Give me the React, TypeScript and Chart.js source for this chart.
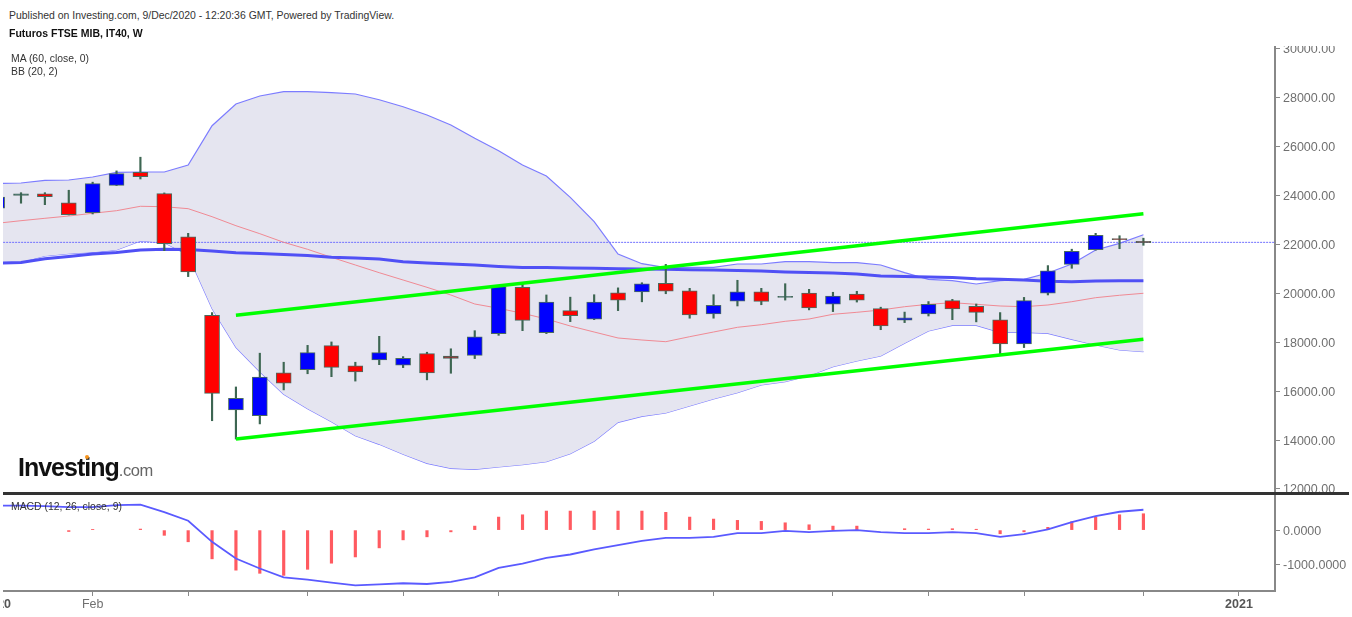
import { useEffect, useRef } from 'react';
import { Chart, registerables } from 'chart.js';

Chart.register(...registerables);

// weekly bars, the first one is cut off by the left edge of the pane
const weeks = [
  '2020-01-06', '2020-01-13', '2020-01-20', '2020-01-27', '2020-02-03', '2020-02-10', '2020-02-17',
  '2020-02-24', '2020-03-02', '2020-03-09', '2020-03-16', '2020-03-23', '2020-03-30', '2020-04-06',
  '2020-04-13', '2020-04-20', '2020-04-27', '2020-05-04', '2020-05-11', '2020-05-18', '2020-05-25',
  '2020-06-01', '2020-06-08', '2020-06-15', '2020-06-22', '2020-06-29', '2020-07-06', '2020-07-13',
  '2020-07-20', '2020-07-27', '2020-08-03', '2020-08-10', '2020-08-17', '2020-08-24', '2020-08-31',
  '2020-09-07', '2020-09-14', '2020-09-21', '2020-09-28', '2020-10-05', '2020-10-12', '2020-10-19',
  '2020-10-26', '2020-11-02', '2020-11-09', '2020-11-16', '2020-11-23', '2020-11-30', '2020-12-07',
];

const opens = [
  23480, 24000, 24060, 23700, 23290, 24410, 24940, 24070, 22310, 19100, 15230, 15000, 16750, 16880, 17860, 17030, 17280,
  17060, 17530, 17430, 17460, 18350, 20240, 18390, 19290, 18940, 20020, 20050, 20410, 20100, 19160, 19680, 20060, 19830,
  20010, 19550, 19970, 19370, 18900, 19160, 19700, 19470, 18910, 17930, 20000, 21180, 21780, 22230, 22120,
];
const closes = [
  23930, 24060, 23950, 23210, 24480, 24890, 24760, 22030, 20870, 15910, 15710, 16570, 16320, 17570, 16970, 16780, 17570,
  17340, 16740, 17340, 18220, 20270, 18890, 19640, 19080, 19640, 19720, 20380, 20080, 19110, 19510, 20060, 19670, 19870,
  19400, 19880, 19720, 18660, 19000, 19550, 19360, 19220, 17930, 19700, 20920, 21710, 22370, 22190, 22070,
];
const highs = [
  24000, 24110, 24110, 24210, 24540, 25000, 25560, 24100, 22450, 19210, 16170, 17550, 17180, 17870, 18010, 17180, 18240,
  17410, 17590, 17730, 18470, 20300, 20410, 19930, 19840, 19940, 20220, 20430, 21180, 20200, 19940, 20530, 20200, 20390,
  20160, 20040, 20080, 19430, 19230, 19660, 19750, 19560, 19210, 19830, 21130, 21800, 22450, 22350, 22250,
];
const lows = [
  23200, 23680, 23620, 23200, 23240, 24400, 24670, 21740, 20680, 14790, 14040, 14660, 16050, 16710, 16590, 16410, 17080,
  16960, 16460, 16730, 17330, 18280, 18470, 18350, 18840, 18920, 19290, 19650, 19980, 18980, 18980, 19480, 19530, 19720,
  19320, 19250, 19640, 18510, 18800, 19070, 18920, 18830, 17520, 17780, 19930, 21020, 21760, 21820, 21960,
];

const bbUpper = [
  24486, 24506, 24616, 24628, 24751, 24943, 24955, 24955, 25241, 26848, 27735, 28062, 28237, 28237, 28197, 28143, 27910,
  27624, 27285, 26877, 26333, 25826, 25241, 24792, 23921, 22924, 21604, 21208, 21044, 21061, 21061, 21195, 21195, 21289,
  21289, 21249, 21249, 21155, 20840, 20570, 20513, 20378, 20513, 20570, 20828, 21195, 21768, 22041, 22393,
];
const bbBasis = [
  22859, 22965, 23063, 23157, 23268, 23374, 23554, 23537, 23456, 23129, 22761, 22434, 22082, 21796, 21469, 21155, 20840,
  20541, 20243, 19928, 19561, 19385, 19181, 18948, 18662, 18416, 18171, 18089, 18020, 18224, 18416, 18608, 18715, 18853,
  18948, 19140, 19221, 19315, 19450, 19548, 19614, 19548, 19479, 19450, 19520, 19655, 19818, 19917, 19998,
];
const bbLower = [
  21224, 21277, 21522, 21617, 21674, 21768, 22135, 22066, 21564, 19377, 17791, 16793, 15870, 15282, 14750, 14178, 13826,
  13418, 13050, 12846, 12805, 12899, 12993, 13116, 13443, 13949, 14725, 14971, 15106, 15392, 15678, 15936, 16250, 16385,
  16630, 16998, 17231, 17435, 17954, 18457, 18690, 18690, 18404, 18404, 18363, 18118, 17885, 17681, 17611,
];
const ma60 = [
  21224, 21257, 21412, 21502, 21604, 21666, 21768, 21796, 21788, 21727, 21658, 21625, 21584, 21543, 21469, 21440, 21400,
  21289, 21236, 21195, 21155, 21093, 21052, 21052, 21032, 21020, 21003, 20991, 20979, 20962, 20950, 20930, 20909, 20868,
  20848, 20828, 20787, 20705, 20685, 20664, 20644, 20594, 20570, 20541, 20488, 20472, 20500, 20513, 20513,
];

const macdLine = [
  700, 705, 690, 660, 660, 720, 729, 518, 268, -337, -815, -1103, -1354, -1420, -1506, -1584, -1555,
  -1526, -1547, -1489, -1354, -1086, -959, -798, -700, -556, -432, -308, -222, -222, -193, -86, -86, -20,
  -58, -20, 0, -58, -86, -86, -58, -86, -193, -115, 20, 230, 403, 527, 585,
];
const macdHist = [
  null, null, null, -40, 20, null, 30, -150, -335, -825, -1150, -1240, -1300, -1125, -950, -770, -510,
  -280, -193, -50, 115, 374, 440, 547, 547, 547, 547, 547, 510, 374, 317, 280, 250, 210,
  153, 115, 115, null, 40, 30, 40, 25, -105, -50, 80, 240, 374, 440, 470,
];

// hand drawn channel and the last price line
const trendWeeks = [9, 47];
const trendUpper = [19100, 23250];
const trendLower = [14040, 18120];
const priceLineWeeks = [-1, 53];
const priceLine = [22080, 22080];

const priceTicks = [12000, 14000, 16000, 18000, 20000, 22000, 24000, 26000, 28000, 30000];
const macdTicks = [-1000, 0];
const timeTicks = [-1, 3, 7, 12, 16, 20, 25, 29, 34, 38, 42, 47, 51];
const timeLabels = ['2020', 'Feb', '', '', '', '', '', '', '', '', '', '', '2021'];

const AXIS_GREY = '#888888';
const TICK_TEXT = '#707070';
const BAND = '#7c7cff';
const X_MIN = -0.754;
const X_MAX = 52.51;

const pts = (values: (number | null)[]) => values.map((y, i) => ({ x: i - 1, y }));
const pairs = (xs: number[], ys: number[]) => xs.map((x, i) => ({ x, y: ys[i] }));

// very thin bodies are mostly outline in the reference
function bodyColor(open: number, close: number) {
  const thin = Math.abs(close - open) < 100;
  if (close >= open) return thin ? '#2f5f55' : '#0000ff';
  return thin ? '#8a2222' : '#ff0000';
}

function lineDs(data: any[], color: string, width: number, order: number, extra: any = {}) {
  return {
    type: 'line' as const,
    data,
    borderColor: color,
    borderWidth: width,
    pointRadius: 0,
    tension: 0,
    fill: false,
    order,
    ...extra,
  };
}

function yAxis(min: number, max: number, ticks: number[], digits: number) {
  return {
    position: 'right' as const,
    min,
    max,
    border: { display: true, color: AXIS_GREY, width: 2 },
    grid: { drawOnChartArea: false, drawTicks: true, tickLength: 5, tickColor: AXIS_GREY },
    ticks: {
      color: TICK_TEXT,
      padding: 3,
      labelOffset: 1,
      autoSkip: false,
      font: { family: '"Liberation Sans", Arial, sans-serif', size: 12.5 },
      callback: (v: any) => Number(v).toFixed(digits),
    },
    afterBuildTicks: (s: any) => {
      s.ticks = ticks.map((value) => ({ value }));
    },
    afterFit: (s: any) => {
      s.width = 77;
      s.paddingTop = 0;
      s.paddingBottom = 0;
    },
  };
}

function xAxis(show: boolean) {
  return {
    type: 'linear' as const,
    display: show,
    min: X_MIN,
    max: X_MAX,
    offset: false,
    border: { display: true, color: AXIS_GREY, width: 2 },
    grid: { offset: false, drawOnChartArea: false, drawTicks: true, tickLength: 5, tickColor: AXIS_GREY },
    ticks: {
      autoSkip: false,
      maxRotation: 0,
      padding: 1,
      color: (c: any) => (c.index === 0 || c.index === timeTicks.length - 1 ? '#555555' : TICK_TEXT),
      font: (c: any) => ({
        family: '"Liberation Sans", Arial, sans-serif',
        size: 12.5,
        weight: c.index === 0 || c.index === timeTicks.length - 1 ? 'bold' : 'normal',
      }),
      callback: (v: any) => timeLabels[timeTicks.indexOf(Number(v))] ?? '',
    },
    afterBuildTicks: (s: any) => {
      s.ticks = timeTicks.map((value) => ({ value }));
    },
    afterFit: (s: any) => {
      if (show) s.height = 26;
      s.paddingLeft = 0;
      s.paddingRight = 0;
    },
  };
}

const baseOptions = {
  responsive: false,
  animation: false as const,
  events: [],
  layout: { padding: 0 },
  plugins: { legend: { display: false }, tooltip: { enabled: false } },
};

const textStyle = {
  position: 'absolute' as const,
  fontFamily: '"Liberation Sans", Arial, sans-serif',
  whiteSpace: 'nowrap' as const,
  color: '#333',
  lineHeight: 1,
};

export default function App() {
  const priceRef = useRef<HTMLCanvasElement>(null);
  const macdRef = useRef<HTMLCanvasElement>(null);

  useEffect(() => {
    if (!priceRef.current || !macdRef.current) return;

    const bodies = weeks.map((_, i) => ({ x: i - 1, y: [opens[i], closes[i]] }));
    const wicks = weeks.map((_, i) => ({ x: i - 1, y: [lows[i], highs[i]] }));
    const bodyColors = weeks.map((_, i) => bodyColor(opens[i], closes[i]));

    const priceChart = new Chart(priceRef.current, {
      type: 'bar',
      data: {
        datasets: [
          lineDs(pairs(trendWeeks, trendUpper), '#00ff00', 3.5, 0),
          lineDs(pairs(trendWeeks, trendLower), '#00ff00', 3.5, 0),
          {
            data: bodies,
            backgroundColor: bodyColors,
            borderColor: '#4a6b5e',
            borderWidth: 1,
            borderSkipped: false,
            barThickness: 15,
            grouped: false,
            order: 2,
          },
          {
            data: wicks,
            backgroundColor: '#3d6652',
            borderWidth: 0,
            barThickness: 1.5,
            grouped: false,
            order: 3,
          },
          lineDs(pts(ma60), '#5050f5', 3, 4),
          lineDs(pts(bbBasis), '#f08a94', 1, 5),
          lineDs(pairs(priceLineWeeks, priceLine), '#6f6fff', 1, 5, { borderDash: [2, 1] }),
          lineDs(pts(bbUpper), BAND, 1.2, 6, { fill: '+1', backgroundColor: '#e5e5f0' }),
          lineDs(pts(bbLower), BAND, 1.2, 6),
        ] as any,
      },
      options: {
        ...baseOptions,
        scales: {
          x: xAxis(false),
          y: yAxis(11877, 30105, priceTicks, 2),
        },
      } as any,
    });

    const macdChart = new Chart(macdRef.current, {
      type: 'bar',
      data: {
        datasets: [
          lineDs(pts(macdLine), '#5a5aff', 1.8, 0),
          {
            data: pts(macdHist),
            backgroundColor: '#ff5a60',
            borderWidth: 0,
            barThickness: 2.5,
            grouped: false,
            order: 1,
          },
        ] as any,
      },
      options: {
        ...baseOptions,
        scales: {
          x: xAxis(true),
          y: yAxis(-1748, 1008, macdTicks, 4),
        },
      } as any,
    });

    return () => {
      priceChart.destroy();
      macdChart.destroy();
    };
  }, []);

  return (
    <div style={{ position: 'absolute', left: 0, top: 0, width: 1352, height: 617, overflow: 'hidden', background: '#fff' }}>
      <canvas ref={priceRef} width={1349} height={446} style={{ position: 'absolute', left: 3, top: 46 }} />
      <canvas ref={macdRef} width={1349} height={122} style={{ position: 'absolute', left: 3, top: 495 }} />
      <div style={{ position: 'absolute', left: 3, top: 492, width: 1346, height: 3, background: '#333' }} />

      <div style={{ ...textStyle, left: 9, top: 11, fontSize: 10.45 }}>
        Published on Investing.com, 9/Dec/2020 - 12:20:36 GMT, Powered by TradingView.
      </div>
      <div style={{ ...textStyle, left: 9, top: 28, fontSize: 10.5, fontWeight: 'bold', color: '#111' }}>
        Futuros FTSE MIB, IT40, W
      </div>
      <div style={{ ...textStyle, left: 11, top: 54, fontSize: 10.4 }}>MA (60, close, 0)</div>
      <div style={{ ...textStyle, left: 11, top: 67, fontSize: 10.4 }}>BB (20, 2)</div>
      <div style={{ ...textStyle, left: 11, top: 502, fontSize: 10.4 }}>MACD (12, 26, close, 9)</div>

      <div style={{ ...textStyle, left: 18, top: 455, fontSize: 25, fontWeight: 'bold', letterSpacing: -1, color: '#111' }}>
        Investing<span style={{ fontWeight: 'normal', fontSize: 16.5, letterSpacing: -0.4, color: '#666' }}>.com</span>
      </div>
      <div style={{ position: 'absolute', left: 85, top: 455, width: 4, height: 4, borderRadius: 2, background: '#f7941d' }} />
    </div>
  );
}
